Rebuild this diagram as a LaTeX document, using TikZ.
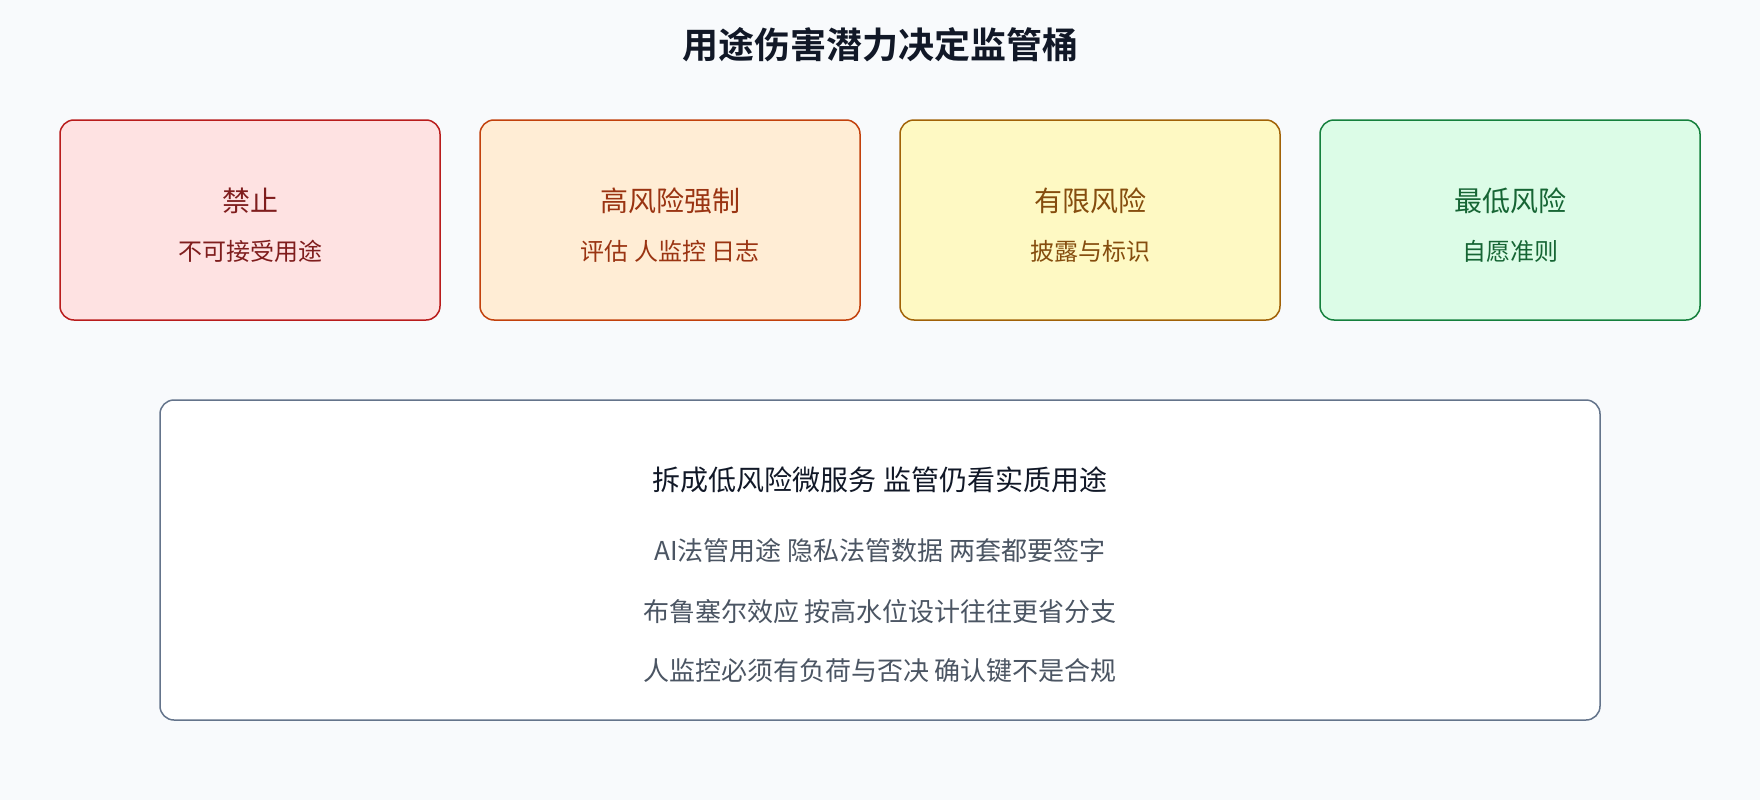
\documentclass[tikz,border=0pt]{standalone}
\usepackage{fontspec}
\setmainfont{Noto Sans CJK SC}[BoldFont={Noto Sans CJK SC Bold}]
\usepackage{tikz}
\usetikzlibrary{positioning}
\usepackage{xcolor}

\definecolor{sfondo}{HTML}{F8FAFC}
\definecolor{titolo}{HTML}{111827}
\definecolor{banline}{HTML}{B91C1C}
\definecolor{banfill}{HTML}{FEE2E2}
\definecolor{bantext}{HTML}{7F1D1D}
\definecolor{highline}{HTML}{C2410C}
\definecolor{highfill}{HTML}{FFEDD5}
\definecolor{hightext}{HTML}{9A3412}
\definecolor{limline}{HTML}{A16207}
\definecolor{limfill}{HTML}{FEF9C3}
\definecolor{limtext}{HTML}{854D0E}
\definecolor{minline}{HTML}{15803D}
\definecolor{minfill}{HTML}{DCFCE7}
\definecolor{mintext}{HTML}{166534}
\definecolor{noteline}{HTML}{64748B}
\definecolor{notetext}{HTML}{4B5563}

\begin{document}
\begin{tikzpicture}[x=1pt, y=-1pt,
    bucket/.style={draw, line width=1.5pt, rounded corners=14pt, minimum width=380pt, minimum height=200pt},
    bucketname/.style={font=\fontsize{28}{34}\selectfont},
    bucketnote/.style={font=\fontsize{24}{29}\selectfont},
    noteitem/.style={font=\fontsize{26}{31}\selectfont, text=notetext}]
    % Sfondo
    \fill[sfondo] (0,0) rectangle (1760,800);

    % Titolo
    \node[font=\bfseries\fontsize{36}{43}\selectfont, text=titolo] (title) at (880,45) {用途伤害潜力决定监管桶};

    % Secchi di rischio
    \node[bucket, draw=banline, fill=banfill] (ban) at (250,220) {};
    \node[bucketname, text=bantext] (ban_name) at (250,201) {禁止};
    \node[bucketnote, text=bantext] (ban_note) at (250,251) {不可接受用途};

    \node[bucket, draw=highline, fill=highfill] (high) at (670,220) {};
    \node[bucketname, text=hightext] (high_name) at (670,201) {高风险强制};
    \node[bucketnote, text=hightext] (high_note) at (670,251) {评估 人监控 日志};

    \node[bucket, draw=limline, fill=limfill] (lim) at (1090,220) {};
    \node[bucketname, text=limtext] (lim_name) at (1090,201) {有限风险};
    \node[bucketnote, text=limtext] (lim_note) at (1090,251) {披露与标识};

    \node[bucket, draw=minline, fill=minfill] (min) at (1510,220) {};
    \node[bucketname, text=mintext] (min_name) at (1510,201) {最低风险};
    \node[bucketnote, text=mintext] (min_note) at (1510,251) {自愿准则};

    % Nota in basso
    \node[draw=noteline, fill=white, line width=1.5pt, rounded corners=14pt, minimum width=1440pt, minimum height=320pt] (notes) at (880,560) {};
    \node[font=\fontsize{28}{34}\selectfont, text=titolo] (notes_head) at (880,480) {拆成低风险微服务 监管仍看实质用途};
    \node[noteitem] (notes_a) at (880,551) {AI法管用途 隐私法管数据 两套都要签字};
    \node[noteitem] (notes_b) at (880,612) {布鲁塞尔效应 按高水位设计往往更省分支};
    \node[noteitem] (notes_c) at (880,671) {人监控必须有负荷与否决 确认键不是合规};
\end{tikzpicture}
\end{document}
